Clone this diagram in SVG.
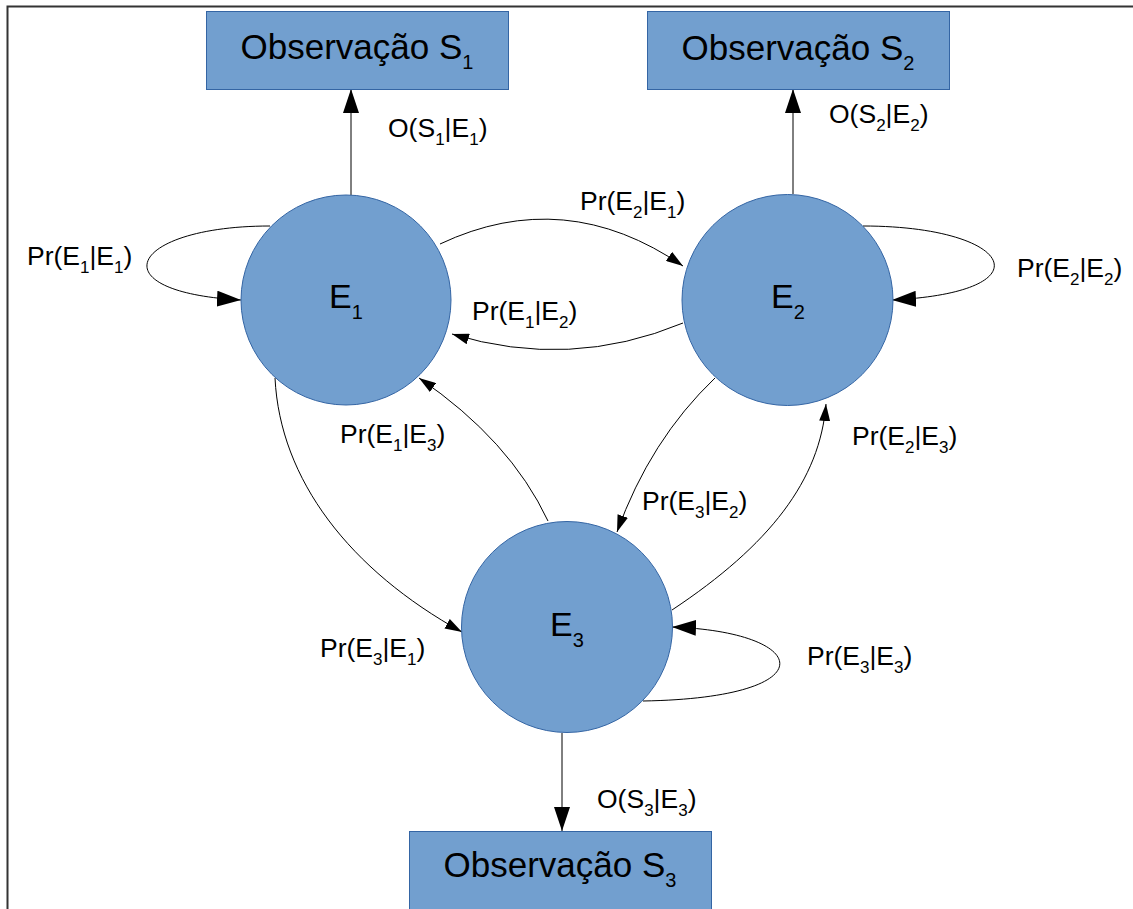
<svg xmlns="http://www.w3.org/2000/svg" width="1133" height="909" viewBox="0 0 1133 909">
  <style>
    .box { fill: #729fcf; stroke: #3465a4; stroke-width: 1; }
    .state { fill: #729fcf; stroke: #3465a4; stroke-width: 1; }
    .edge-big { fill: none; stroke: #000; stroke-width: 1; marker-end: url(#headBig); }
    .edge-small { fill: none; stroke: #000; stroke-width: 1; marker-end: url(#headSmall); }
    text { font-family: "Liberation Sans", Arial, sans-serif; fill: #000; }
    .obs { font-size: 35px; text-anchor: middle; }
    .st { font-size: 34px; text-anchor: middle; }
    .lbl { font-size: 26.5px; }
    .sub { font-size: 17px; }
    .subBig { font-size: 20px; }
  </style>
  <defs>
    <marker id="headBig" markerUnits="userSpaceOnUse" markerWidth="24" markerHeight="16" viewBox="0 0 24 16" refX="24" refY="8" orient="auto">
      <path d="M0,0 L24,8 L0,16 Z" fill="#000"/>
    </marker>
    <marker id="headSmall" markerUnits="userSpaceOnUse" markerWidth="17" markerHeight="11" viewBox="0 0 17 11" refX="17" refY="5.5" orient="auto">
      <path d="M0,0 L17,5.5 L0,11 Z" fill="#000"/>
    </marker>
  </defs>

  <rect width="1133" height="909" fill="#fff"/>
  <!-- page frame -->
  <path d="M7.5,909 V6.5 H1133" fill="none" stroke="#333" stroke-width="2"/>

  <!-- connectors -->
  <g id="connectors">
    <!-- emissions -->
    <line class="edge-big" x1="351" y1="195" x2="351" y2="89"/>
    <line class="edge-big" x1="793" y1="194" x2="793" y2="89"/>
    <line class="edge-big" x1="562" y1="733" x2="562" y2="831"/>
    <!-- self transitions -->
    <path class="edge-big" d="M270,226 C130,226 95,292 241,300"/>
    <path class="edge-big" d="M863,226 C1013,226 1050,292 892,300"/>
    <path class="edge-big" d="M643,701 C828,698 813,632 672,627"/>
    <!-- transitions between states -->
    <path class="edge-small" d="M440,244 Q565,185 683,266"/>
    <path class="edge-small" d="M683,323 Q570,370 452,334"/>
    <path class="edge-small" d="M275,378 C280,480 350,570 462,632"/>
    <path class="edge-small" d="M548,521 Q510,440 419,378"/>
    <path class="edge-small" d="M715,378 Q650,440 617,532"/>
    <path class="edge-small" d="M672,610 C770,545 820,480 826,404"/>

    <!-- transition labels -->
    <text class="lbl" x="27" y="265">Pr(E<tspan class="sub" dy="8">1</tspan><tspan dy="-8">|E</tspan><tspan class="sub" dy="8">1</tspan><tspan dy="-8">)</tspan></text>
    <text class="lbl" x="1017" y="277">Pr(E<tspan class="sub" dy="8">2</tspan><tspan dy="-8">|E</tspan><tspan class="sub" dy="8">2</tspan><tspan dy="-8">)</tspan></text>
    <text class="lbl" x="807" y="665">Pr(E<tspan class="sub" dy="8">3</tspan><tspan dy="-8">|E</tspan><tspan class="sub" dy="8">3</tspan><tspan dy="-8">)</tspan></text>
    <text class="lbl" x="580" y="210">Pr(E<tspan class="sub" dy="8">2</tspan><tspan dy="-8">|E</tspan><tspan class="sub" dy="8">1</tspan><tspan dy="-8">)</tspan></text>
    <text class="lbl" x="472" y="320">Pr(E<tspan class="sub" dy="8">1</tspan><tspan dy="-8">|E</tspan><tspan class="sub" dy="8">2</tspan><tspan dy="-8">)</tspan></text>
    <text class="lbl" x="340" y="443">Pr(E<tspan class="sub" dy="8">1</tspan><tspan dy="-8">|E</tspan><tspan class="sub" dy="8">3</tspan><tspan dy="-8">)</tspan></text>
    <text class="lbl" x="852" y="445">Pr(E<tspan class="sub" dy="8">2</tspan><tspan dy="-8">|E</tspan><tspan class="sub" dy="8">3</tspan><tspan dy="-8">)</tspan></text>
    <text class="lbl" x="642" y="510">Pr(E<tspan class="sub" dy="8">3</tspan><tspan dy="-8">|E</tspan><tspan class="sub" dy="8">2</tspan><tspan dy="-8">)</tspan></text>
    <text class="lbl" x="320" y="657">Pr(E<tspan class="sub" dy="8">3</tspan><tspan dy="-8">|E</tspan><tspan class="sub" dy="8">1</tspan><tspan dy="-8">)</tspan></text>
    <!-- emission labels -->
    <text class="lbl" x="388" y="137">O(S<tspan class="sub" dy="8">1</tspan><tspan dy="-8">|E</tspan><tspan class="sub" dy="8">1</tspan><tspan dy="-8">)</tspan></text>
    <text class="lbl" x="829" y="123">O(S<tspan class="sub" dy="8">2</tspan><tspan dy="-8">|E</tspan><tspan class="sub" dy="8">2</tspan><tspan dy="-8">)</tspan></text>
    <text class="lbl" x="597" y="808">O(S<tspan class="sub" dy="8">3</tspan><tspan dy="-8">|E</tspan><tspan class="sub" dy="8">3</tspan><tspan dy="-8">)</tspan></text>
  </g>

  <!-- observation boxes -->
  <g id="obs-s1">
    <rect class="box" x="206.5" y="11.5" width="302" height="78"/>
    <text class="obs" x="357" y="59">Observação S<tspan class="subBig" dy="10">1</tspan></text>
  </g>
  <g id="obs-s2">
    <rect class="box" x="647.5" y="11.5" width="302" height="78"/>
    <text class="obs" x="798" y="60">Observação S<tspan class="subBig" dy="10">2</tspan></text>
  </g>
  <g id="obs-s3">
    <rect class="box" x="409.5" y="831.5" width="302" height="90"/>
    <text class="obs" x="560" y="877">Observação S<tspan class="subBig" dy="10">3</tspan></text>
  </g>

  <!-- hidden states -->
  <g id="state-e1">
    <circle class="state" cx="346" cy="300" r="105"/>
    <text class="st" x="346" y="308">E<tspan class="subBig" dy="11">1</tspan></text>
  </g>
  <g id="state-e2">
    <circle class="state" cx="787.5" cy="300" r="105.5"/>
    <text class="st" x="788" y="308">E<tspan class="subBig" dy="11">2</tspan></text>
  </g>
  <g id="state-e3">
    <circle class="state" cx="567" cy="627" r="105.5"/>
    <text class="st" x="567" y="636">E<tspan class="subBig" dy="11">3</tspan></text>
  </g>
</svg>
